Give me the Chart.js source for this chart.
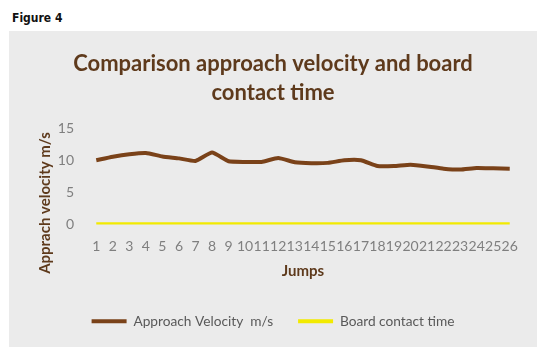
<!DOCTYPE html>
<html>
<head>
<meta charset="utf-8">
<script src="https://cdn.jsdelivr.net/npm/chart.js@4/dist/chart.umd.min.js"></script>
<style>
  body { margin: 0; background: #fff; width: 551px; height: 362px; position: relative; overflow: hidden; }
  #fig { position: absolute; left: 12px; top: 11px; font: bold 12px "Liberation Sans Narrow", "DejaVu Sans Condensed", sans-serif; color: #111; }
  #panel { position: absolute; left: 9px; top: 31px; width: 528px; height: 316px; background: #ebebeb; }
</style>
</head>
<body>
<div id="fig">Figure 4</div>
<div id="panel"><canvas id="chart"></canvas></div>
<script>
// values
const jumps = ['1','2','3','4','5','6','7','8','9','10','11','12','13','14','15','16','17','18','19','20','21','22','23','24','25','26'];
const approachVelocity = [10.0, 10.55, 10.95, 11.15, 10.6, 10.3, 9.9, 11.2, 9.85, 9.75, 9.75, 10.35, 9.7, 9.55, 9.6, 10.0, 10.0, 9.1, 9.1, 9.3, 9.05, 8.7, 8.55, 8.8, 8.75, 8.7];
const boardContact = [0.12, 0.12, 0.12, 0.12, 0.12, 0.12, 0.12, 0.12, 0.12, 0.12, 0.12, 0.12, 0.12, 0.12, 0.12, 0.12, 0.12, 0.12, 0.12, 0.12, 0.12, 0.12, 0.12, 0.12, 0.12, 0.12];
const yTicks = [0, 5, 10, 15];

const brown = '#7a4219';
const yellow = '#f2ea00';
const titleBrown = '#5e3a1c';

// y axis title sits a bit lower than the plot centre in the original, so draw it ourselves
const yTitle = {
    id: 'yTitle',
    afterDraw(chart) {
        const c = chart.ctx;
        c.save();
        c.translate(36, 172);
        c.rotate(-Math.PI / 2);
        c.fillStyle = titleBrown;
        c.font = 'bold 15px Lato';
        c.textAlign = 'center';
        c.textBaseline = 'middle';
        c.fillText('Apprach velocity m/s', 0, 0);
        c.restore();
    }
};

const ctx = document.getElementById('chart').getContext('2d');
new Chart(ctx, {
    type: 'line',
    data: {
        labels: jumps,
        datasets: [{
            label: 'Approach Velocity  m/s',
            data: approachVelocity,
            borderColor: brown,
            backgroundColor: brown,
            borderWidth: 4,
            pointRadius: 0,
            tension: 0.15
        }, {
            label: 'Board contact time',
            data: boardContact,
            borderColor: yellow,
            backgroundColor: yellow,
            borderWidth: 3,
            pointRadius: 0
        }]
    },
    plugins: [yTitle],
    options: {
        responsive: true,
        maintainAspectRatio: false,
        animation: false,
        layout: { padding: { left: 19, right: 19, top: 8, bottom: 9 } },
        plugins: {
            title: {
                display: true,
                text: ['Comparison approach velocity and board', 'contact time'],
                color: titleBrown,
                font: { family: 'Lato', size: 22, weight: 'bold', lineHeight: 1.3 },
                padding: { top: 11, bottom: 21 }
            },
            legend: {
                position: 'bottom',
                labels: {
                    color: '#595959',
                    font: { family: 'Lato', size: 13.7 },
                    boxWidth: 35,
                    boxHeight: 4,
                    padding: 25,
                    generateLabels: chart => Chart.defaults.plugins.legend.labels.generateLabels(chart)
                        .map(item => Object.assign(item, { lineWidth: 0 }))
                }
            },
            tooltip: { enabled: false }
        },
        scales: {
            x: {
                offset: true,
                grid: { display: false, drawTicks: false },
                border: { display: false },
                ticks: {
                    color: '#7f7f7f',
                    font: { family: 'Lato', size: 14 },
                    autoSkip: false,
                    maxRotation: 0,
                    padding: 14
                },
                title: {
                    display: true,
                    text: 'Jumps',
                    color: titleBrown,
                    font: { family: 'Lato', size: 15, weight: 'bold' },
                    padding: { top: -7, bottom: 9 }
                }
            },
            y: {
                min: 0,
                max: 15,
                afterBuildTicks: scale => { scale.ticks = yTicks.map(v => ({ value: v })); },
                afterFit: scale => { scale.width = 60; },
                grid: { display: false, drawTicks: false },
                border: { display: false },
                ticks: {
                    color: '#7f7f7f',
                    font: { family: 'Lato', size: 14 },
                    padding: 14
                }
            }
        }
    }
});
</script>
</body>
</html>
